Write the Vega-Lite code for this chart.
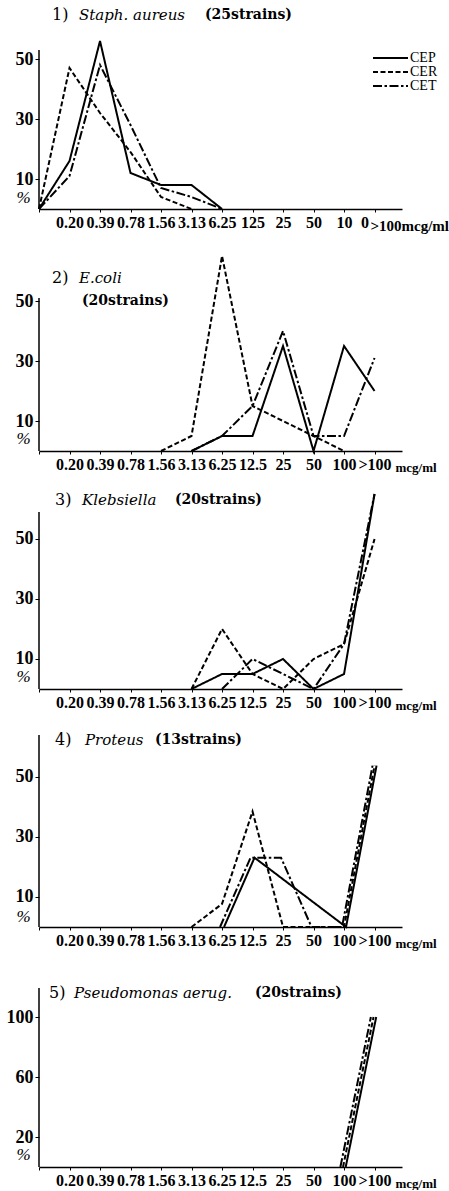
{
"$schema":"https://vega.github.io/schema/vega-lite/v6.json",
"background":"white",
"padding":{"left":6,"top":5,"right":0,"bottom":0},
"bounds":"flush",
"spacing":0,
"config":{"view":{"stroke":null}},
"resolve":{"scale":{"x":"independent","y":"independent","xOffset":"independent"},"axis":{"x":"independent","y":"independent"}},
"datasets":{"d":[
{"p":1,"s":"CEP","mic":"0","v":0},{"p":1,"s":"CEP","mic":"0.20","v":16},{"p":1,"s":"CEP","mic":"0.39","v":56},{"p":1,"s":"CEP","mic":"0.78","v":12},{"p":1,"s":"CEP","mic":"1.56","v":8},{"p":1,"s":"CEP","mic":"3.13","v":8},{"p":1,"s":"CEP","mic":"6.25","v":0},
{"p":1,"s":"CER","mic":"0","v":0},{"p":1,"s":"CER","mic":"0.20","v":47},{"p":1,"s":"CER","mic":"0.39","v":32},{"p":1,"s":"CER","mic":"0.78","v":19},{"p":1,"s":"CER","mic":"1.56","v":4},{"p":1,"s":"CER","mic":"3.13","v":0},
{"p":1,"s":"CET","mic":"0","v":0},{"p":1,"s":"CET","mic":"0.20","v":11},{"p":1,"s":"CET","mic":"0.39","v":48},{"p":1,"s":"CET","mic":"0.78","v":28},{"p":1,"s":"CET","mic":"1.56","v":7},{"p":1,"s":"CET","mic":"3.13","v":4},{"p":1,"s":"CET","mic":"6.25","v":0},
{"p":2,"s":"CEP","mic":"3.13","v":0},{"p":2,"s":"CEP","mic":"6.25","v":5},{"p":2,"s":"CEP","mic":"12.5","v":5},{"p":2,"s":"CEP","mic":"25","v":35},{"p":2,"s":"CEP","mic":"50","v":0},{"p":2,"s":"CEP","mic":"100","v":35},{"p":2,"s":"CEP","mic":">100","v":20},
{"p":2,"s":"CER","mic":"1.56","v":0},{"p":2,"s":"CER","mic":"3.13","v":5},{"p":2,"s":"CER","mic":"6.25","v":65},{"p":2,"s":"CER","mic":"12.5","v":15},{"p":2,"s":"CER","mic":"25","v":10},{"p":2,"s":"CER","mic":"50","v":5},{"p":2,"s":"CER","mic":"100","v":0},
{"p":2,"s":"CET","mic":"3.13","v":0},{"p":2,"s":"CET","mic":"6.25","v":5},{"p":2,"s":"CET","mic":"12.5","v":15},{"p":2,"s":"CET","mic":"25","v":40},{"p":2,"s":"CET","mic":"50","v":5},{"p":2,"s":"CET","mic":"100","v":5},{"p":2,"s":"CET","mic":">100","v":31},
{"p":3,"s":"CEP","mic":"3.13","v":0},{"p":3,"s":"CEP","mic":"6.25","v":5},{"p":3,"s":"CEP","mic":"12.5","v":5},{"p":3,"s":"CEP","mic":"25","v":10},{"p":3,"s":"CEP","mic":"50","v":0},{"p":3,"s":"CEP","mic":"100","v":5},{"p":3,"s":"CEP","mic":">100","v":65},
{"p":3,"s":"CER","mic":"3.13","v":0},{"p":3,"s":"CER","mic":"6.25","v":20},{"p":3,"s":"CER","mic":"12.5","v":5},{"p":3,"s":"CER","mic":"25","v":0},{"p":3,"s":"CER","mic":"50","v":10},{"p":3,"s":"CER","mic":"100","v":15},{"p":3,"s":"CER","mic":">100","v":50},
{"p":3,"s":"CET","mic":"6.25","v":0},{"p":3,"s":"CET","mic":"12.5","v":10},{"p":3,"s":"CET","mic":"25","v":5},{"p":3,"s":"CET","mic":"50","v":0},{"p":3,"s":"CET","mic":"100","v":15},{"p":3,"s":"CET","mic":">100","v":65},
{"p":4,"s":"CEP","mic":"6.25","v":0},{"p":4,"s":"CEP","mic":"12.5","v":23.1},{"p":4,"s":"CEP","mic":"25","v":15.4},{"p":4,"s":"CEP","mic":"50","v":7.7},{"p":4,"s":"CEP","mic":"100","v":0},{"p":4,"s":"CEP","mic":">100","v":53.8},
{"p":4,"s":"CER","mic":"3.13","v":0},{"p":4,"s":"CER","mic":"6.25","v":7.7},{"p":4,"s":"CER","mic":"12.5","v":38.5},{"p":4,"s":"CER","mic":"25","v":0},{"p":4,"s":"CER","mic":"50","v":0},{"p":4,"s":"CER","mic":"100","v":0},{"p":4,"s":"CER","mic":">100","v":53.8},
{"p":4,"s":"CET","mic":"6.25","v":0},{"p":4,"s":"CET","mic":"12.5","v":23.1},{"p":4,"s":"CET","mic":"25","v":23.1},{"p":4,"s":"CET","mic":"50","v":0},{"p":4,"s":"CET","mic":"100","v":0},{"p":4,"s":"CET","mic":">100","v":53.8},
{"p":5,"s":"CEP","mic":"100","v":0},{"p":5,"s":"CEP","mic":">100","v":100},
{"p":5,"s":"CER","mic":"100","v":0},{"p":5,"s":"CER","mic":">100","v":100},
{"p":5,"s":"CET","mic":"100","v":0},{"p":5,"s":"CET","mic":">100","v":100}
]},
"vconcat":[
{"width":363,"height":204,
 "layer":[
  {"data":{"name":"d"},"transform":[{"filter":"datum.p == 1"}],"mark":{"type":"line","color":"black","strokeWidth":2},
   "encoding":{
    "x":{"field":"mic","type":"ordinal","scale":{"type":"point","domain":["0","0.20","0.39","0.78","1.56","3.13","6.25","12.5","25","50","100",">100"],"padding":0.45,"align":0},
     "axis":{"domainColor":"black","domainWidth":1.5,"tickSize":3,"tickColor":"black","labelAngle":0,"labelFont":"Liberation Serif","labelFontWeight":"bold","labelFontSize":16,"labelColor":"black","labelPadding":2,"labelOverlap":false,"labelFlush":false,
      "labelExpr":"datum.value == '0' ? '' : datum.value == '12.5' ? '125' : datum.value == '100' ? '10' : datum.value == '>100' ? '0' : datum.value",
      "labelOffset":{"condition":{"test":"datum.value == '>100'","value":-10},"value":0},
      "title":">100mcg/ml","titleX":331,"titleY":21,"titleAlign":"left","titleBaseline":"alphabetic","titleFont":"Liberation Serif","titleFontWeight":"bold","titleFontSize":15,"titleColor":"black"}},
    "y":{"field":"v","type":"quantitative","scale":{"domain":[0,68],"nice":false},
     "axis":{"values":[10,30,50],"domain":false,"grid":false,"tickSize":4,"tickColor":"black","labelPadding":2,"labelFont":"Liberation Serif","labelFontWeight":"bold","labelFontSize":18,"labelColor":"black","title":"%","titleAngle":0,"titleX":-16,"titleY":192,"titleAlign":"center","titleBaseline":"middle","titleFont":"Liberation Serif","titleFontStyle":"italic","titleFontWeight":"normal","titleFontSize":17,"titleColor":"black"}},
    "strokeDash":{"field":"s","type":"nominal","scale":{"domain":["CEP","CER","CET"],"range":[[1,0],[5,2.5],[9,2.5,2.5,2.5]]},
     "legend":{"orient":"none","legendX":333,"legendY":48,"title":null,"symbolType":"stroke","symbolSize":1225,"symbolStrokeWidth":2,"symbolStrokeColor":"black","clipHeight":10,"rowPadding":0,"labelFont":"Liberation Serif","labelFontSize":14,"labelColor":"black","labelOffset":1}},
    "order":{"value":null}}},
  {"data":{"values":[{}]},"mark":{"type":"rule","color":"black","strokeWidth":1.5},
   "encoding":{"x":{"datum":"0","type":"ordinal"},"y":{"datum":0,"type":"quantitative"},"y2":{"datum":53}}},
  {"data":{"values":[{}]},"mark":{"type":"text","align":"left","baseline":"middle","dx":13,"font":"DejaVu Serif","fontSize":16,"color":"black"},
   "encoding":{"x":{"datum":"0","type":"ordinal"},"y":{"datum":64.7,"type":"quantitative"},"text":{"value":"1)"}}},
  {"data":{"values":[{}]},"mark":{"type":"text","align":"left","baseline":"middle","dx":40,"font":"DejaVu Serif","fontStyle":"italic","fontSize":15,"color":"black"},
   "encoding":{"x":{"datum":"0","type":"ordinal"},"y":{"datum":64.7,"type":"quantitative"},"text":{"value":"Staph. aureus"}}},
  {"data":{"values":[{}]},"mark":{"type":"text","align":"left","baseline":"middle","dx":166,"font":"DejaVu Serif","fontWeight":"bold","fontSize":14,"color":"black"},
   "encoding":{"x":{"datum":"0","type":"ordinal"},"y":{"datum":64.7,"type":"quantitative"},"text":{"value":"(25strains)"}}}
 ]},
{"width":363,"height":242,
 "layer":[
  {"data":{"name":"d"},"transform":[{"filter":"datum.p == 2"}],"mark":{"type":"line","color":"black","strokeWidth":2},
   "encoding":{
    "x":{"field":"mic","type":"ordinal","scale":{"type":"point","domain":["0","0.20","0.39","0.78","1.56","3.13","6.25","12.5","25","50","100",">100"],"padding":0.45,"align":0},
     "axis":{"domainColor":"black","domainWidth":1.5,"tickSize":3,"tickColor":"black","labelAngle":0,"labelFont":"Liberation Serif","labelFontWeight":"bold","labelFontSize":16,"labelColor":"black","labelPadding":2,"labelOverlap":false,"labelFlush":false,
      "labelExpr":"datum.value == '0' ? '' : datum.value",
      "title":"mcg/ml","titleX":356,"titleY":20,"titleAlign":"left","titleBaseline":"alphabetic","titleFont":"Liberation Serif","titleFontWeight":"bold","titleFontSize":13,"titleColor":"black"}},
    "y":{"field":"v","type":"quantitative","scale":{"domain":[0,80.667],"nice":false},
     "axis":{"values":[10,30,50],"domain":false,"grid":false,"tickSize":4,"tickColor":"black","labelPadding":2,"labelFont":"Liberation Serif","labelFontWeight":"bold","labelFontSize":18,"labelColor":"black","title":"%","titleAngle":0,"titleX":-16,"titleY":229,"titleAlign":"center","titleBaseline":"middle","titleFont":"Liberation Serif","titleFontStyle":"italic","titleFontWeight":"normal","titleFontSize":17,"titleColor":"black"}},
    "strokeDash":{"field":"s","type":"nominal","scale":{"domain":["CEP","CER","CET"],"range":[[1,0],[5,2.5],[9,2.5,2.5,2.5]]},"legend":null},
    "order":{"value":null}}},
  {"data":{"values":[{}]},"mark":{"type":"rule","color":"black","strokeWidth":1.5},
   "encoding":{"x":{"datum":"0","type":"ordinal"},"y":{"datum":0,"type":"quantitative"},"y2":{"datum":51}}},
  {"data":{"values":[{}]},"mark":{"type":"text","align":"left","baseline":"middle","dx":13,"font":"DejaVu Serif","fontSize":16,"color":"black"},
   "encoding":{"x":{"datum":"0","type":"ordinal"},"y":{"datum":57.7,"type":"quantitative"},"text":{"value":"2)"}}},
  {"data":{"values":[{}]},"mark":{"type":"text","align":"left","baseline":"middle","dx":40,"font":"DejaVu Serif","fontStyle":"italic","fontSize":15,"color":"black"},
   "encoding":{"x":{"datum":"0","type":"ordinal"},"y":{"datum":57.7,"type":"quantitative"},"text":{"value":"E.coli"}}},
  {"data":{"values":[{}]},"mark":{"type":"text","align":"left","baseline":"middle","dx":43,"font":"DejaVu Serif","fontWeight":"bold","fontSize":14,"color":"black"},
   "encoding":{"x":{"datum":"0","type":"ordinal"},"y":{"datum":50,"type":"quantitative"},"text":{"value":"(20strains)"}}}
 ]},
{"width":363,"height":238,
 "layer":[
  {"data":{"name":"d"},"transform":[{"filter":"datum.p == 3"}],"mark":{"type":"line","color":"black","strokeWidth":2},
   "encoding":{
    "x":{"field":"mic","type":"ordinal","scale":{"type":"point","domain":["0","0.20","0.39","0.78","1.56","3.13","6.25","12.5","25","50","100",">100"],"padding":0.45,"align":0},
     "axis":{"domainColor":"black","domainWidth":1.5,"tickSize":3,"tickColor":"black","labelAngle":0,"labelFont":"Liberation Serif","labelFontWeight":"bold","labelFontSize":16,"labelColor":"black","labelPadding":2,"labelOverlap":false,"labelFlush":false,
      "labelExpr":"datum.value == '0' ? '' : datum.value",
      "title":"mcg/ml","titleX":356,"titleY":20,"titleAlign":"left","titleBaseline":"alphabetic","titleFont":"Liberation Serif","titleFontWeight":"bold","titleFontSize":13,"titleColor":"black"}},
    "y":{"field":"v","type":"quantitative","scale":{"domain":[0,79.333],"nice":false},
     "axis":{"values":[10,30,50],"domain":false,"grid":false,"tickSize":4,"tickColor":"black","labelPadding":2,"labelFont":"Liberation Serif","labelFontWeight":"bold","labelFontSize":18,"labelColor":"black","title":"%","titleAngle":0,"titleX":-16,"titleY":225,"titleAlign":"center","titleBaseline":"middle","titleFont":"Liberation Serif","titleFontStyle":"italic","titleFontWeight":"normal","titleFontSize":17,"titleColor":"black"}},
    "strokeDash":{"field":"s","type":"nominal","scale":{"domain":["CEP","CER","CET"],"range":[[1,0],[5,2.5],[9,2.5,2.5,2.5]]},"legend":null},
    "order":{"value":null}}},
  {"data":{"values":[{}]},"mark":{"type":"rule","color":"black","strokeWidth":1.5},
   "encoding":{"x":{"datum":"0","type":"ordinal"},"y":{"datum":0,"type":"quantitative"},"y2":{"datum":59}}},
  {"data":{"values":[{}]},"mark":{"type":"text","align":"left","baseline":"middle","dx":16,"font":"DejaVu Serif","fontSize":16,"color":"black"},
   "encoding":{"x":{"datum":"0","type":"ordinal"},"y":{"datum":63,"type":"quantitative"},"text":{"value":"3)"}}},
  {"data":{"values":[{}]},"mark":{"type":"text","align":"left","baseline":"middle","dx":43,"font":"DejaVu Serif","fontStyle":"italic","fontSize":15,"color":"black"},
   "encoding":{"x":{"datum":"0","type":"ordinal"},"y":{"datum":63,"type":"quantitative"},"text":{"value":"Klebsiella"}}},
  {"data":{"values":[{}]},"mark":{"type":"text","align":"left","baseline":"middle","dx":136,"font":"DejaVu Serif","fontWeight":"bold","fontSize":14,"color":"black"},
   "encoding":{"x":{"datum":"0","type":"ordinal"},"y":{"datum":63,"type":"quantitative"},"text":{"value":"(20strains)"}}}
 ]},
{"width":363,"height":238,
 "layer":[
  {"data":{"name":"d"},"transform":[{"filter":"datum.p == 4"}],"mark":{"type":"line","color":"black","strokeWidth":2},
   "encoding":{
    "x":{"field":"mic","type":"ordinal","scale":{"type":"point","domain":["0","0.20","0.39","0.78","1.56","3.13","6.25","12.5","25","50","100",">100"],"padding":0.45,"align":0},
     "axis":{"domainColor":"black","domainWidth":1.5,"tickSize":3,"tickColor":"black","labelAngle":0,"labelFont":"Liberation Serif","labelFontWeight":"bold","labelFontSize":16,"labelColor":"black","labelPadding":2,"labelOverlap":false,"labelFlush":false,
      "labelExpr":"datum.value == '0' ? '' : datum.value",
      "title":"mcg/ml","titleX":356,"titleY":20,"titleAlign":"left","titleBaseline":"alphabetic","titleFont":"Liberation Serif","titleFontWeight":"bold","titleFontSize":13,"titleColor":"black"}},
    "xOffset":{"field":"s","type":"nominal","scale":{"type":"point","domain":["CET","CER","CEP"],"range":[-3,3]}},
    "y":{"field":"v","type":"quantitative","scale":{"domain":[0,79.333],"nice":false},
     "axis":{"values":[10,30,50],"domain":false,"grid":false,"tickSize":4,"tickColor":"black","labelPadding":2,"labelFont":"Liberation Serif","labelFontWeight":"bold","labelFontSize":18,"labelColor":"black","title":"%","titleAngle":0,"titleX":-16,"titleY":227,"titleAlign":"center","titleBaseline":"middle","titleFont":"Liberation Serif","titleFontStyle":"italic","titleFontWeight":"normal","titleFontSize":17,"titleColor":"black"}},
    "strokeDash":{"field":"s","type":"nominal","scale":{"domain":["CEP","CER","CET"],"range":[[1,0],[5,2.5],[9,2.5,2.5,2.5]]},"legend":null},
    "order":{"value":null}}},
  {"data":{"values":[{}]},"mark":{"type":"rule","color":"black","strokeWidth":1.5},
   "encoding":{"x":{"datum":"0","type":"ordinal"},"y":{"datum":0,"type":"quantitative"},"y2":{"datum":64}}},
  {"data":{"values":[{}]},"mark":{"type":"text","align":"left","baseline":"middle","dx":16,"font":"DejaVu Serif","fontSize":16,"color":"black"},
   "encoding":{"x":{"datum":"0","type":"ordinal"},"y":{"datum":62.3,"type":"quantitative"},"text":{"value":"4)"}}},
  {"data":{"values":[{}]},"mark":{"type":"text","align":"left","baseline":"middle","dx":46,"font":"DejaVu Serif","fontStyle":"italic","fontSize":15,"color":"black"},
   "encoding":{"x":{"datum":"0","type":"ordinal"},"y":{"datum":62.3,"type":"quantitative"},"text":{"value":"Proteus"}}},
  {"data":{"values":[{}]},"mark":{"type":"text","align":"left","baseline":"middle","dx":116,"font":"DejaVu Serif","fontWeight":"bold","fontSize":14,"color":"black"},
   "encoding":{"x":{"datum":"0","type":"ordinal"},"y":{"datum":62.3,"type":"quantitative"},"text":{"value":"(13strains)"}}}
 ]},
{"width":363,"height":240,
 "layer":[
  {"data":{"name":"d"},"transform":[{"filter":"datum.p == 5"}],"mark":{"type":"line","color":"black","strokeWidth":2},
   "encoding":{
    "x":{"field":"mic","type":"ordinal","scale":{"type":"point","domain":["0","0.20","0.39","0.78","1.56","3.13","6.25","12.5","25","50","100",">100"],"padding":0.45,"align":0},
     "axis":{"domainColor":"black","domainWidth":1.5,"tickSize":3,"tickColor":"black","labelAngle":0,"labelFont":"Liberation Serif","labelFontWeight":"bold","labelFontSize":16,"labelColor":"black","labelPadding":2,"labelOverlap":false,"labelFlush":false,
      "labelExpr":"datum.value == '0' ? '' : datum.value",
      "title":"mcg/ml","titleX":356,"titleY":20,"titleAlign":"left","titleBaseline":"alphabetic","titleFont":"Liberation Serif","titleFontWeight":"bold","titleFontSize":13,"titleColor":"black"}},
    "xOffset":{"field":"s","type":"nominal","scale":{"type":"point","domain":["CET","CER","CEP"],"range":[-5,3]}},
    "y":{"field":"v","type":"quantitative","scale":{"domain":[0,160],"nice":false},
     "axis":{"values":[20,60,100],"domain":false,"grid":false,"tickSize":4,"tickColor":"black","labelPadding":2,"labelFont":"Liberation Serif","labelFontWeight":"bold","labelFontSize":18,"labelColor":"black","title":"%","titleAngle":0,"titleX":-16,"titleY":227,"titleAlign":"center","titleBaseline":"middle","titleFont":"Liberation Serif","titleFontStyle":"italic","titleFontWeight":"normal","titleFontSize":17,"titleColor":"black"}},
    "strokeDash":{"field":"s","type":"nominal","scale":{"domain":["CEP","CER","CET"],"range":[[1,0],[5,2.5],[9,2.5,2.5,2.5]]},"legend":null},
    "order":{"value":null}}},
  {"data":{"values":[{}]},"mark":{"type":"rule","color":"black","strokeWidth":1.5},
   "encoding":{"x":{"datum":"0","type":"ordinal"},"y":{"datum":0,"type":"quantitative"},"y2":{"datum":119.3}}},
  {"data":{"values":[{}]},"mark":{"type":"text","align":"left","baseline":"middle","dx":10,"font":"DejaVu Serif","fontSize":16,"color":"black"},
   "encoding":{"x":{"datum":"0","type":"ordinal"},"y":{"datum":116,"type":"quantitative"},"text":{"value":"5)"}}},
  {"data":{"values":[{}]},"mark":{"type":"text","align":"left","baseline":"middle","dx":35,"font":"DejaVu Serif","fontStyle":"italic","fontSize":15,"color":"black"},
   "encoding":{"x":{"datum":"0","type":"ordinal"},"y":{"datum":116,"type":"quantitative"},"text":{"value":"Pseudomonas aerug."}}},
  {"data":{"values":[{}]},"mark":{"type":"text","align":"left","baseline":"middle","dx":216,"font":"DejaVu Serif","fontWeight":"bold","fontSize":14,"color":"black"},
   "encoding":{"x":{"datum":"0","type":"ordinal"},"y":{"datum":116,"type":"quantitative"},"text":{"value":"(20strains)"}}}
 ]}
]
}
